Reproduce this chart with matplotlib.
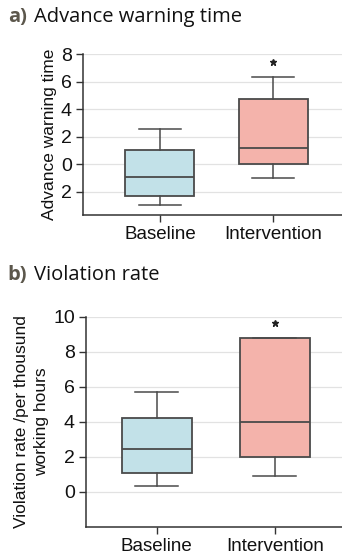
import matplotlib
matplotlib.use("Agg")
import matplotlib.pyplot as plt
from matplotlib.ticker import FixedLocator, FixedFormatter

groups = ["Baseline", "Intervention"]

# box stats: whislo, q1, med, q3, whishi
warn_stats = [
    [-3.0, -2.35, -0.95, 1.0, 2.55],
    [-1.0, 0.0, 1.15, 4.7, 6.35],
]
warn_star = 7.4
warn_ticks = [-2, 0, 2, 4, 6, 8]
warn_tick_labels = ["2", "0", "2", "4", "6", "8"]

viol_stats = [
    [0.32, 1.05, 2.45, 4.2, 5.72],
    [0.88, 2.0, 4.0, 8.77, 8.77],
]
viol_star = 9.65
viol_ticks = [0, 2, 4, 6, 8, 10]
viol_tick_labels = ["0", "2", "4", "6", "8", "10"]

COLORS = ["#c2e1e8", "#f4b3ab"]
EDGE = "#4a4a4a"
TICK_FONT = "Liberation Sans"


def draw_panel(ax, stats, star_y, ticks, tick_labels, ylim, xlim, ylabel, width):
    bxp = []
    for name, s in zip(groups, stats):
        bxp.append({"label": name, "whislo": s[0], "q1": s[1], "med": s[2],
                    "q3": s[3], "whishi": s[4], "fliers": []})
    parts = ax.bxp(bxp, positions=[0, 1], widths=width, patch_artist=True,
                   showfliers=False,
                   boxprops=dict(edgecolor=EDGE, linewidth=1.3),
                   medianprops=dict(color=EDGE, linewidth=1.3),
                   whiskerprops=dict(color=EDGE, linewidth=1.1),
                   capprops=dict(color=EDGE, linewidth=1.1),
                   capwidths=width * 0.62)
    for patch, c in zip(parts["boxes"], COLORS):
        patch.set_facecolor(c)
    ax.plot([1], [star_y], marker="*", color="#222222", markersize=5, linestyle="none")

    ax.set_ylim(*ylim)
    ax.set_xlim(*xlim)
    ax.yaxis.set_major_locator(FixedLocator(ticks))
    ax.yaxis.set_major_formatter(FixedFormatter(tick_labels))
    ax.set_xticks([0, 1])
    ax.set_xticklabels(groups, fontsize=13.5, family=TICK_FONT, color="#111111")
    for lab in ax.get_yticklabels():
        lab.set_fontsize(14)
        lab.set_family(TICK_FONT)
        lab.set_color("#111111")
    ax.grid(axis="y", color="#e2e2e2", linewidth=0.9)
    ax.set_axisbelow(True)
    for side in ("top", "right"):
        ax.spines[side].set_visible(False)
    for side in ("left", "bottom"):
        ax.spines[side].set_color("#333333")
        ax.spines[side].set_linewidth(1.1)
    ax.tick_params(axis="both", direction="out", length=5, color="#333333", width=1.0, pad=3)
    ax.set_ylabel(ylabel, fontsize=12.5, family=TICK_FONT, color="#111111", labelpad=3,
                  linespacing=1.45)


fig = plt.figure(figsize=(3.42, 5.58), dpi=100)

ax1 = fig.add_axes([0.2427, 0.6147, 0.7573, 0.2885])
draw_panel(ax1, warn_stats, warn_star, warn_ticks, warn_tick_labels,
           (-3.7, 8.0), (-0.68, 1.61), "Advance warning time", 0.61)

ax2 = fig.add_axes([0.2515, 0.0561, 0.7485, 0.3764])
draw_panel(ax2, viol_stats, viol_star, viol_ticks, viol_tick_labels,
           (-2.0, 10.0), (-0.60, 1.57),
           "Violation rate /per thousund\nworking hours", 0.59)

title_kw = dict(fontsize=14.5, family="Open Sans", va="center", ha="left")
fig.text(0.023, 1 - 17 / 558, "a)", fontweight="bold", color="#5c574c", **title_kw)
fig.text(0.099, 1 - 17 / 558, "Advance warning time", color="#111111", **title_kw)
fig.text(0.023, 1 - 275 / 558, "b)", fontweight="bold", color="#5c574c", **title_kw)
fig.text(0.099, 1 - 275 / 558, "Violation rate", color="#111111", **title_kw)

fig.savefig("out.png", dpi=100)
